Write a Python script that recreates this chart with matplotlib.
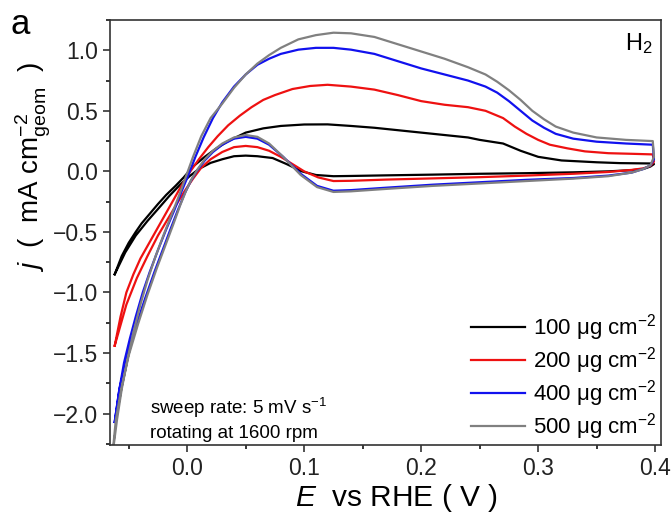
import matplotlib
matplotlib.use('Agg')
import matplotlib.pyplot as plt
from matplotlib.ticker import MultipleLocator

# 数据准备 (anodic sweep, then cathodic sweep back)
black_xa = [-0.062, -0.056, -0.050, -0.044, -0.039, -0.032, -0.025, -0.018, -0.010, -0.003, 0.005, 0.015, 0.025, 0.035,
            0.05, 0.065, 0.08, 0.10, 0.12, 0.14, 0.16, 0.18, 0.20, 0.22, 0.24, 0.25, 0.27, 0.285, 0.30, 0.32, 0.35,
            0.37, 0.398]
black_ya = [-0.85, -0.70, -0.59, -0.50, -0.43, -0.35, -0.27, -0.195, -0.12, -0.05, 0.04, 0.12, 0.19, 0.25,
            0.32, 0.355, 0.375, 0.387, 0.388, 0.375, 0.36, 0.34, 0.32, 0.30, 0.28, 0.26, 0.23, 0.17, 0.12, 0.09, 0.075,
            0.068, 0.065]
black_xc = [0.399, 0.396, 0.39, 0.38, 0.36, 0.33, 0.29, 0.25, 0.21, 0.17, 0.14, 0.125, 0.11, 0.098, 0.085, 0.073,
            0.06, 0.05, 0.04, 0.03, 0.02, 0.01, 0.002, -0.006, -0.015, -0.024, -0.034, -0.044, -0.053, -0.062]
black_yc = [0.06, 0.04, 0.02, 0.01, 0.0, -0.008, -0.015, -0.02, -0.027, -0.033, -0.038, -0.04, -0.03, 0.0, 0.06, 0.11,
            0.125, 0.13, 0.125, 0.10, 0.07, 0.02, -0.04, -0.11, -0.20, -0.30, -0.41, -0.53, -0.67, -0.85]

red_xa = [-0.062, -0.057, -0.052, -0.046, -0.040, -0.033, -0.026, -0.019, -0.012, -0.005, 0.002, 0.010, 0.018, 0.026,
          0.035, 0.045, 0.055, 0.065, 0.075, 0.09, 0.105, 0.12, 0.14, 0.16, 0.18, 0.20, 0.22, 0.24, 0.255, 0.27,
          0.28, 0.29, 0.30, 0.31, 0.325, 0.34, 0.36, 0.38, 0.398]
red_ya = [-1.44, -1.20, -1.00, -0.85, -0.72, -0.60, -0.48, -0.36, -0.24, -0.12, -0.01, 0.10, 0.20, 0.29,
          0.38, 0.46, 0.53, 0.59, 0.63, 0.68, 0.705, 0.715, 0.70, 0.675, 0.63, 0.58, 0.55, 0.53, 0.50, 0.44,
          0.37, 0.31, 0.26, 0.22, 0.19, 0.165, 0.15, 0.145, 0.14]
red_xc = [0.399, 0.396, 0.39, 0.38, 0.36, 0.33, 0.29, 0.25, 0.21, 0.17, 0.14, 0.125, 0.112, 0.100, 0.090, 0.080,
          0.070, 0.060, 0.050, 0.040, 0.030, 0.020, 0.012, 0.005, -0.002, -0.009, -0.017, -0.025, -0.034, -0.043,
          -0.052, -0.062]
red_yc = [0.08, 0.045, 0.025, 0.012, -0.005, -0.02, -0.035, -0.048, -0.058, -0.068, -0.078, -0.08, -0.05, 0.0,
          0.06, 0.12, 0.17, 0.20, 0.21, 0.20, 0.16, 0.10, 0.03, -0.06, -0.16, -0.27, -0.40, -0.53, -0.70, -0.88,
          -1.10, -1.44]

blue_xa = [-0.062, -0.058, -0.054, -0.049, -0.044, -0.038, -0.032, -0.025, -0.018, -0.011, -0.005, 0.001, 0.007,
           0.014, 0.022, 0.030, 0.040, 0.050, 0.060, 0.070, 0.080, 0.095, 0.110, 0.125, 0.14, 0.16, 0.18, 0.20,
           0.22, 0.24, 0.255, 0.265, 0.275, 0.285, 0.295, 0.305, 0.315, 0.33, 0.35, 0.375, 0.398]
blue_ya = [-2.07, -1.80, -1.58, -1.38, -1.20, -1.00, -0.83, -0.65, -0.48, -0.32, -0.17, -0.03, 0.12,
           0.28, 0.44, 0.57, 0.70, 0.80, 0.88, 0.93, 0.97, 1.005, 1.02, 1.02, 1.005, 0.97, 0.91, 0.85,
           0.80, 0.75, 0.70, 0.65, 0.58, 0.50, 0.42, 0.36, 0.31, 0.27, 0.245, 0.23, 0.22]
blue_xc = [0.399, 0.396, 0.39, 0.38, 0.36, 0.33, 0.29, 0.25, 0.21, 0.17, 0.14, 0.125, 0.111, 0.097, 0.082, 0.070,
           0.060, 0.050, 0.040, 0.030, 0.022, 0.015, 0.008, 0.003, -0.002, -0.008, -0.014, -0.021, -0.028, -0.036,
           -0.044, -0.052, -0.058, -0.062]
blue_yc = [0.10, 0.05, 0.02, -0.01, -0.035, -0.055, -0.07, -0.09, -0.11, -0.135, -0.155, -0.16, -0.12, -0.02,
           0.12, 0.22, 0.27, 0.285, 0.27, 0.22, 0.16, 0.09, 0.0, -0.08, -0.18, -0.32, -0.47, -0.65, -0.83, -1.05,
           -1.28, -1.55, -1.80, -2.07]

gray_xa = [-0.064, -0.060, -0.056, -0.051, -0.046, -0.040, -0.034, -0.027, -0.020, -0.013, -0.007, -0.001, 0.005,
           0.012, 0.020, 0.030, 0.040, 0.050, 0.060, 0.070, 0.080, 0.095, 0.110, 0.125, 0.14, 0.16, 0.18, 0.20,
           0.22, 0.24, 0.255, 0.265, 0.275, 0.285, 0.295, 0.305, 0.315, 0.33, 0.35, 0.375, 0.398]
gray_ya = [-2.35, -2.05, -1.80, -1.55, -1.33, -1.10, -0.90, -0.70, -0.52, -0.35, -0.20, -0.04, 0.12,
           0.29, 0.44, 0.56, 0.69, 0.80, 0.89, 0.96, 1.02, 1.09, 1.125, 1.145, 1.14, 1.11, 1.05, 0.99,
           0.93, 0.86, 0.80, 0.74, 0.67, 0.59, 0.50, 0.43, 0.37, 0.32, 0.28, 0.26, 0.25]
gray_xc = [0.399, 0.396, 0.39, 0.38, 0.36, 0.33, 0.29, 0.25, 0.21, 0.17, 0.14, 0.125, 0.111, 0.097, 0.082, 0.070,
           0.060, 0.050, 0.040, 0.030, 0.022, 0.015, 0.009, 0.004, -0.001, -0.006, -0.012, -0.019, -0.026, -0.034,
           -0.042, -0.050, -0.056, -0.061, -0.064]
gray_yc = [0.12, 0.05, 0.02, -0.01, -0.04, -0.06, -0.08, -0.10, -0.12, -0.145, -0.165, -0.17, -0.13, -0.03,
           0.12, 0.23, 0.285, 0.30, 0.28, 0.23, 0.17, 0.10, 0.02, -0.06, -0.16, -0.28, -0.44, -0.62, -0.80, -1.02,
           -1.26, -1.52, -1.78, -2.05, -2.35]

labels = ['100 μg cm$^{-2}$', '200 μg cm$^{-2}$', '400 μg cm$^{-2}$', '500 μg cm$^{-2}$']
colors = ['black', '#ee1111', '#1111ee', '#808080']

# 字体设置
plt.rcParams['font.family'] = ['Liberation Sans', 'DejaVu Sans']
plt.rcParams['mathtext.fontset'] = 'custom'
plt.rcParams['mathtext.rm'] = 'Liberation Sans'
plt.rcParams['mathtext.it'] = 'Liberation Sans:italic'

fig = plt.figure(figsize=(6.72, 5.14), dpi=100)
ax = fig.add_axes([0.1637, 0.1342, 0.8199, 0.8269])

curves = [(black_xa, black_ya, black_xc, black_yc),
          (red_xa, red_ya, red_xc, red_yc),
          (blue_xa, blue_ya, blue_xc, blue_yc),
          (gray_xa, gray_ya, gray_xc, gray_yc)]
for (xa, ya, xc, yc), c, lab in zip(curves, colors, labels):
    ax.plot(xa + xc, ya + yc, color=c, lw=1.6, label=lab)

ax.set_xlim(-0.066, 0.405)
ax.set_ylim(-2.26, 1.25)
ax.xaxis.set_major_locator(MultipleLocator(0.1))
ax.xaxis.set_minor_locator(MultipleLocator(0.05))
ax.yaxis.set_major_locator(MultipleLocator(0.5))
ax.yaxis.set_minor_locator(MultipleLocator(0.25))
fmt = plt.FuncFormatter(lambda v, p: f'{v:.1f}'.replace('-', '\u2212'))
ax.xaxis.set_major_formatter(fmt)
ax.yaxis.set_major_formatter(fmt)
ax.tick_params(which='major', direction='out', length=5, width=1.1, labelsize=16.5, colors='#222222')
ax.tick_params(which='minor', direction='out', length=3, width=1.1)
for s in ax.spines.values():
    s.set_linewidth(1.2)
    s.set_color('#333333')

# 坐标轴标签
ax.set_xlabel('$E$  vs RHE ( V )', fontsize=21.5)
ax.set_ylabel('$j$  (  mA cm$^{-2}_{\\mathrm{geom}}$  )', fontsize=20)
ax.xaxis.set_label_coords(0.52, -0.088)
ax.yaxis.set_label_coords(-0.104, 0.654)

# 图例与注释
ax.legend(loc='lower right', bbox_to_anchor=(1.0, -0.004), frameon=False, fontsize=16,
          handlelength=2.43, handletextpad=0.36, labelspacing=0.1, borderpad=0.2, borderaxespad=0.0)
ax.text(0.985, 0.975, 'H$_2$', transform=ax.transAxes, ha='right', va='top', fontsize=17)
ax.text(0.073, 0.087, 'sweep rate: 5 mV s$^{-1}$', transform=ax.transAxes, va='center', fontsize=13.5)
ax.text(0.073, 0.028, 'rotating at 1600 rpm', transform=ax.transAxes, va='center', fontsize=13.5)
fig.text(0.015, 0.985, 'a', ha='left', va='top', fontsize=25)

fig.savefig('out.png', dpi=100)
